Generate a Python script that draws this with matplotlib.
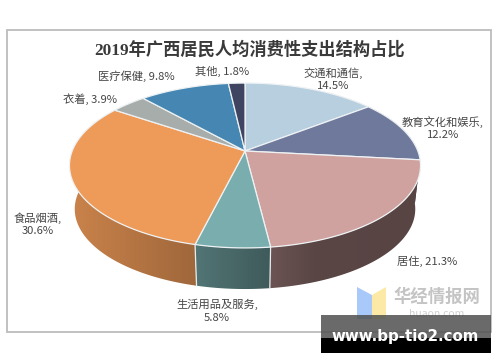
import numpy as np
import matplotlib
matplotlib.use('Agg')
import matplotlib.pyplot as plt
from matplotlib.patches import Polygon, Rectangle
from matplotlib.colors import LinearSegmentedColormap, to_rgb

FONT = ['Noto Sans CJK SC', 'DejaVu Sans']

title = '2019年广西居民人均消费性支出结构占比'
names = ['交通和通信', '教育文化和娱乐', '居住', '生活用品及服务', '食品烟酒', '衣着', '医疗保健', '其他']
shares = [14.5, 12.2, 21.3, 5.8, 30.6, 3.9, 9.8, 1.8]
colors = ['#b7cfdf', '#6f799b', '#cfa2a0', '#7aaeae', '#ee9a58', '#a7adaa', '#4587b2', '#3f4560']

# where each label goes, True = value on a second line
label_pos = [(333, 79), (443, 128), (427, 261), (217, 311), (38, 224), (90, 99), (136, 76), (222, 71)]
two_line = [True, True, False, True, True, False, False, False]

# perspective of the pie, in pixels
cx, cy_top, cy_bot = 245, 151, 195
bx, by, k = 172.8, 79.9, 0.1757
shrink = 0.97


def project(deg, cy, s):
    # clockwise from 12 o'clock on a tilted disc
    t = np.radians(deg)
    d = 1 + k * np.cos(t)
    return cx + s * bx * np.sin(t) / d, cy - s * by * np.cos(t) / d


fig = plt.figure(figsize=(5, 3.62), dpi=100)
ax = fig.add_axes([0, 0, 1, 1])
ax.set_xlim(0, 500)
ax.set_ylim(362, 0)
ax.axis('off')

ax.add_patch(Rectangle((6.5, 30), 484.5, 302, fc='white', ec='#bcbcbc', lw=1.3, zorder=0))

edges = np.cumsum([0] + shares) / sum(shares) * 360

# side wall first, top face covers its back part
for i in range(len(shares)):
    a = np.linspace(edges[i], edges[i + 1], 80)
    xt, yt = project(a, cy_top, 1)
    xb, yb = project(a, cy_bot, shrink)
    pts = np.r_[np.c_[xt, yt], np.c_[xb[::-1], yb[::-1]]]
    poly = Polygon(pts, closed=True, fc='none', ec='none', zorder=1)
    ax.add_patch(poly)
    c = np.array(to_rgb(colors[i]))
    cmap = LinearSegmentedColormap.from_list('w', [(0, c * 0.85), (0.36, c * 0.67), (0.57, c * 0.52),
                                                   (0.7, c * 0.43), (1, c * 0.42)])
    im = ax.imshow(np.linspace(0, 1, 256).reshape(1, -1), cmap=cmap, vmin=0, vmax=1,
                   extent=[70, 420, 300, 90], aspect='auto', zorder=1)
    im.set_clip_path(poly)
    # thin white seam between wall pieces
    px, py = project(edges[i], cy_top, 1)
    qx, qy = project(edges[i], cy_bot, shrink)
    if py > 200:
        ax.plot([px, qx], [py, qy], color='#e8eeee', lw=0.9, zorder=2)

ax.set_xlim(0, 500)
ax.set_ylim(362, 0)

for i in range(len(shares)):
    a = np.linspace(edges[i], edges[i + 1], 120)
    xt, yt = project(a, cy_top, 1)
    pts = np.r_[[[cx, cy_top]], np.c_[xt, yt]]
    ax.add_patch(Polygon(pts, closed=True, fc=colors[i], ec='#eef2f4', lw=0.9, zorder=3))

ax.text(250, 50, title, ha='center', va='center', fontsize=12.4, fontweight='bold', color='#3a3a3a',
        family=['Liberation Serif', 'Noto Sans CJK SC'], zorder=5)

for i in range(len(shares)):
    if two_line[i]:
        txt = f'{names[i]},\n{shares[i]}%'
    else:
        txt = f'{names[i]}, {shares[i]}%'
    ax.text(label_pos[i][0], label_pos[i][1], txt, ha='center', va='center', fontsize=8.1, color='#454545',
            family=FONT, linespacing=1.3, zorder=5)

# watermark
ax.add_patch(Polygon([(357, 287), (372, 295), (372, 319), (357, 319)], fc='#a9c9fa', ec='none', zorder=4))
ax.add_patch(Polygon([(372, 295), (386, 287), (386, 319), (372, 319)], fc='#fde9a6', ec='none', zorder=4))
ax.text(437, 297, '华经情报网', ha='center', va='center', fontsize=12.5, fontweight='bold', color='#c4c4c4',
        family=FONT, zorder=4)
ax.text(437, 314, 'huaon.com', ha='center', va='center', fontsize=7.5, color='#d0d0d0', family=FONT, zorder=4)

ax.add_patch(Rectangle((321, 315), 170, 23, fc='#505050', alpha=0.85, ec='none', zorder=6))
ax.add_patch(Rectangle((321, 338), 170, 15, fc='black', ec='none', zorder=6))
ax.text(405, 337, 'www.bp-tio2.com', ha='center', va='center', fontsize=10.8, fontweight='bold', color='white',
        family=['DejaVu Sans'], zorder=7)

fig.savefig('out.png', dpi=100)
